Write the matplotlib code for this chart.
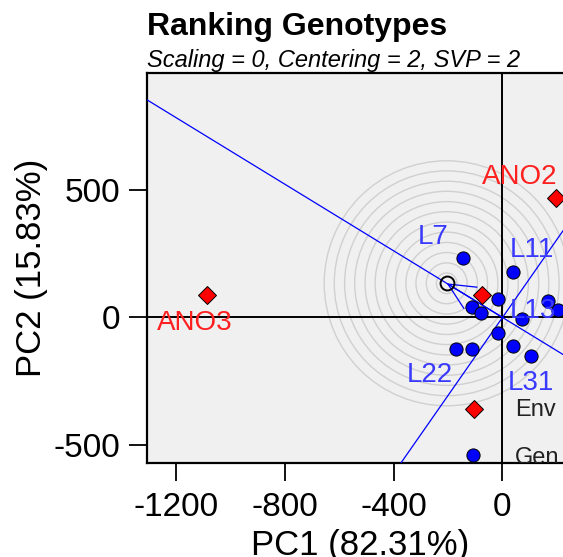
import numpy as np
import matplotlib
matplotlib.use("Agg")
import matplotlib.pyplot as plt
from matplotlib.patches import Ellipse

plt.rcParams['font.family'] = ['Liberation Sans', 'DejaVu Sans']
plt.rcParams['axes.unicode_minus'] = False

# genotype scores (PC1, PC2)
gen_x = [-146, 40, -15, -113, -80, 168, 205, 71, -15, -171, -113, 40, 104, -107]
gen_y = [235, 177, 73, 42, 16, 66, 29, -7, -62, -125, -125, -112, -150, -539]

# environment scores
env_x = [197, -1086, -74, -105]
env_y = [469, 88, 88, -359]

# average environment coordinate
aec_x, aec_y = -205, 134

# labels shown on the plot
gen_labels = ['L7', 'L11', 'L13', 'L22', 'L31']
gen_lab_x = [-254, 108, 112, -266, 105]
gen_lab_y = [316, 265, 25, -225, -257]
env_labels = ['ANO2', 'ANO3']
env_lab_x = [62, -1130]
env_lab_y = [551, -22]

# concentric rings around the AEC point (PC1 units)
rings = [38, 75, 113, 150, 188, 225, 263, 300, 338, 375, 413, 450]

xlim = (-1306, 259)
ylim = (-571, 959)

fig = plt.figure(figsize=(5.63, 5.57), dpi=100)
ax = fig.add_axes([147 / 563, 94 / 557, 426 / 563, 390 / 557])
ax.set_facecolor('#f0f0f0')
ax.set_xlim(xlim)
ax.set_ylim(ylim)

# pixel scale ratio so rings look round
sx = 426 / (xlim[1] - xlim[0])
sy = 390 / (ylim[1] - ylim[0])
for r in rings:
    ax.add_patch(Ellipse((aec_x, aec_y), 2 * r, 2 * r * sx / sy, fill=False,
                         edgecolor='#d0d0d0', lw=1.0, zorder=1))

ax.axhline(0, color='black', lw=1.4, zorder=2)
ax.axvline(0, color='black', lw=1.4, zorder=2)

# AEC abscissa and ordinate
ax.axline((0, 0), (aec_x, aec_y), color='#0000ff', lw=0.9, zorder=3)
ax.axline((0, 0), slope=-aec_x / aec_y, color='#0000ff', lw=0.9, zorder=3)
ax.annotate('', xy=(aec_x, aec_y), xytext=(0, 0),
            arrowprops=dict(arrowstyle='->,head_length=1.9,head_width=0.9',
                            color='#0000ff', lw=0.9, shrinkA=0, shrinkB=0),
            zorder=3)

ax.plot(aec_x, aec_y, 'o', ms=10, mfc='none', mec='black', mew=1.4, zorder=5)
ax.plot(gen_x, gen_y, 'o', ms=9.5, mfc='#0000ff', mec='black', mew=0.7,
        ls='none', zorder=4)
ax.plot(env_x, env_y, 'D', ms=9, mfc='#ff0000', mec='black',
        mew=0.7, ls='none', zorder=4)

for lab, x, y in zip(gen_labels, gen_lab_x, gen_lab_y):
    ax.text(x, y, lab, color='#3a3aff', fontsize=20, ha='center', va='center',
            zorder=6)
for lab, x, y in zip(env_labels, env_lab_x, env_lab_y):
    ax.text(x, y, lab, color='#ff2020', fontsize=20, ha='center', va='center',
            zorder=6)

ax.text(46, -363, 'Env', fontsize=17, color='#222222', ha='left', va='center',
        clip_on=True)
ax.text(46, -550, 'Gen', fontsize=17, color='#222222', ha='left', va='center',
        clip_on=True)

ax.set_xticks([-1200, -800, -400, 0])
ax.set_yticks([-500, 0, 500])
ax.tick_params(direction='out', length=13, width=1.3, labelsize=24, pad=8)
ax.tick_params(axis='y', pad=6)
for s in ax.spines.values():
    s.set_linewidth(1.6)
    s.set_color('black')

ax.set_xlabel('PC1 (82.31%)', fontsize=25)
ax.set_ylabel('PC2 (15.83%)', fontsize=25)
ax.xaxis.set_label_coords(0.5, -0.168)
ax.yaxis.set_label_coords(-0.232, 0.5)

fig.text(147 / 563, 1 - 35 / 557, 'Ranking Genotypes', fontsize=23,
         fontweight='bold', va='baseline', ha='left')
fig.text(147 / 563, 1 - 67 / 557, 'Scaling = 0, Centering = 2, SVP = 2',
         fontsize=17, style='italic', va='baseline', ha='left')

fig.savefig('out.png', dpi=100)
